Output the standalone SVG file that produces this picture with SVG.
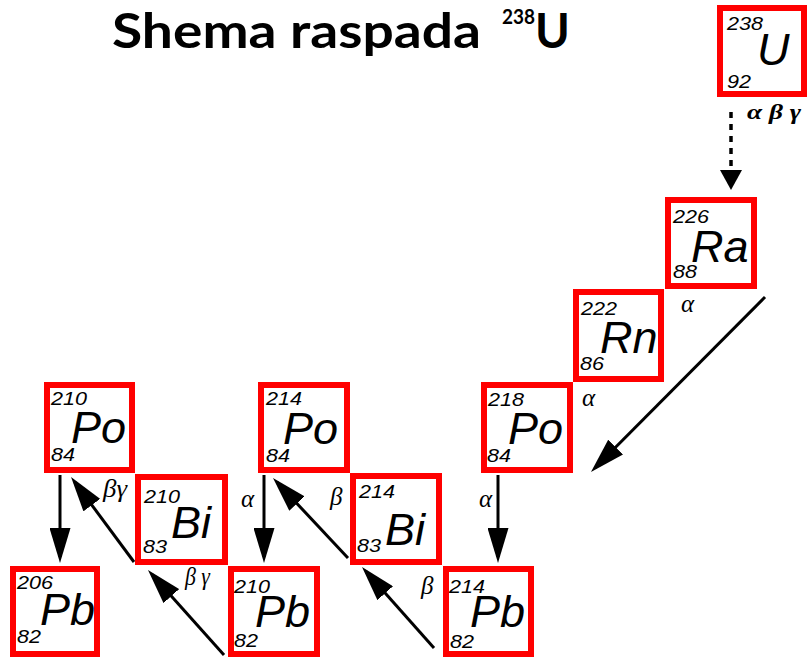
<svg xmlns="http://www.w3.org/2000/svg" width="807" height="660" viewBox="0 0 807 660">
<style>
.frame{fill:#fff;stroke:#ff0000;stroke-width:6}
.num{font-family:"Liberation Sans",Arial,sans-serif;font-style:italic;font-size:18px;fill:#000}
.sym{font-family:"Liberation Sans",Arial,sans-serif;font-style:italic;font-size:45px;fill:#000}
.lbl{font-family:"Liberation Serif","DejaVu Serif",serif;font-style:italic;font-size:25px;fill:#000}
.lblu{font-family:"Liberation Serif","DejaVu Serif",serif;font-style:italic;font-weight:bold;font-size:21px;fill:#000}
.title{font-family:Lato,"Open Sans","Liberation Sans",sans-serif;font-weight:700;fill:#000}
.arr{stroke:#000;stroke-width:3;fill:none;marker-end:url(#head)}
.dash{stroke:#000;stroke-width:3.5;fill:none;stroke-dasharray:6 6;marker-end:url(#headd)}
</style>
<defs>
<marker id="head" markerUnits="userSpaceOnUse" viewBox="0 0 35 21" markerWidth="35" markerHeight="21" refX="29" refY="10.5" orient="auto"><path d="M0,0 L35,10.5 L0,21 Z" fill="#000"/></marker>
<marker id="headd" markerUnits="userSpaceOnUse" viewBox="0 0 20 22" markerWidth="20" markerHeight="22" refX="16" refY="11" orient="auto"><path d="M0,0 L20,11 L0,22 Z" fill="#000"/></marker>
</defs>
<rect width="807" height="660" fill="#fff"/>
<g id="title">
<text class="title" x="112" y="48" font-size="47" textLength="369" lengthAdjust="spacingAndGlyphs">Shema raspada</text>
<text class="title" x="502" y="24" font-size="20" textLength="33" lengthAdjust="spacingAndGlyphs">238</text>
<text class="title" x="535" y="48" font-size="47">U</text>
</g>
<g id="connectors">
<line class="dash" x1="731" y1="112" x2="731" y2="186"/>
<line class="arr" x1="765" y1="297" x2="595.2" y2="467.7"/>
<line class="arr" x1="498" y1="475" x2="498" y2="557"/>
<line class="arr" x1="434" y1="648" x2="366" y2="571.5"/>
<line class="arr" x1="348" y1="558" x2="277.1" y2="482.4"/>
<line class="arr" x1="264" y1="475" x2="264" y2="557"/>
<line class="arr" x1="224" y1="655" x2="152" y2="574.5"/>
<line class="arr" x1="134" y1="562" x2="74.6" y2="481.8"/>
<line class="arr" x1="60" y1="475" x2="60" y2="557"/>
<text class="lblu" x="747" y="119" textLength="54" lengthAdjust="spacingAndGlyphs">α β γ</text>
<text class="lbl" x="681" y="312">α</text>
<text class="lbl" x="582" y="406">α</text>
<text class="lbl" x="479" y="507">α</text>
<text class="lbl" x="421" y="594">β</text>
<text class="lbl" x="330" y="505">β</text>
<text class="lbl" x="241" y="507">α</text>
<text class="lbl" x="103" y="497" textLength="24" lengthAdjust="spacingAndGlyphs">βγ</text>
<text class="lbl" x="185" y="585" textLength="25" lengthAdjust="spacingAndGlyphs">β γ</text>
</g>
<g id="U238">
<rect class="frame" x="720" y="8" width="84" height="86"/>
<text class="num" x="727" y="30" textLength="36" lengthAdjust="spacingAndGlyphs">238</text>
<text class="sym" x="757" y="65" font-size="40">U</text>
<text class="num" x="727" y="88" textLength="24" lengthAdjust="spacingAndGlyphs">92</text>
</g>
<g id="Ra226">
<rect class="frame" x="668" y="200" width="86" height="86"/>
<text class="num" x="673" y="223" textLength="36" lengthAdjust="spacingAndGlyphs">226</text>
<text class="sym" x="691" y="262">Ra</text>
<text class="num" x="673" y="278" textLength="24" lengthAdjust="spacingAndGlyphs">88</text>
</g>
<g id="Rn222">
<rect class="frame" x="576" y="292" width="85" height="87"/>
<text class="num" x="581" y="315" textLength="36" lengthAdjust="spacingAndGlyphs">222</text>
<text class="sym" x="600" y="353">Rn</text>
<text class="num" x="580" y="370" textLength="24" lengthAdjust="spacingAndGlyphs">86</text>
</g>
<g id="Po218">
<rect class="frame" x="484" y="385" width="86" height="85"/>
<text class="num" x="488" y="406" textLength="36" lengthAdjust="spacingAndGlyphs">218</text>
<text class="sym" x="508" y="444">Po</text>
<text class="num" x="487" y="462" textLength="24" lengthAdjust="spacingAndGlyphs">84</text>
</g>
<g id="Pb214">
<rect class="frame" x="446" y="569" width="85" height="85"/>
<text class="num" x="449" y="593" textLength="36" lengthAdjust="spacingAndGlyphs">214</text>
<text class="sym" x="470" y="627">Pb</text>
<text class="num" x="450" y="648" textLength="24" lengthAdjust="spacingAndGlyphs">82</text>
</g>
<g id="Bi214">
<rect class="frame" x="353" y="476" width="86" height="86"/>
<text class="num" x="359" y="498" textLength="36" lengthAdjust="spacingAndGlyphs">214</text>
<text class="sym" x="385" y="545">Bi</text>
<text class="num" x="357" y="552" textLength="24" lengthAdjust="spacingAndGlyphs">83</text>
</g>
<g id="Po214">
<rect class="frame" x="261" y="385" width="86" height="85"/>
<text class="num" x="266" y="405" textLength="36" lengthAdjust="spacingAndGlyphs">214</text>
<text class="sym" x="283" y="444">Po</text>
<text class="num" x="266" y="462" textLength="24" lengthAdjust="spacingAndGlyphs">84</text>
</g>
<g id="Pb210">
<rect class="frame" x="231" y="569" width="86" height="85"/>
<text class="num" x="234" y="593" textLength="36" lengthAdjust="spacingAndGlyphs">210</text>
<text class="sym" x="255" y="627">Pb</text>
<text class="num" x="234" y="647" textLength="24" lengthAdjust="spacingAndGlyphs">82</text>
</g>
<g id="Bi210">
<rect class="frame" x="138" y="477" width="87" height="85"/>
<text class="num" x="144" y="503" textLength="36" lengthAdjust="spacingAndGlyphs">210</text>
<text class="sym" x="171" y="538">Bi</text>
<text class="num" x="143" y="553" textLength="24" lengthAdjust="spacingAndGlyphs">83</text>
</g>
<g id="Po210">
<rect class="frame" x="47" y="385" width="85" height="85"/>
<text class="num" x="51" y="405" textLength="36" lengthAdjust="spacingAndGlyphs">210</text>
<text class="sym" x="71" y="443">Po</text>
<text class="num" x="51" y="461" textLength="24" lengthAdjust="spacingAndGlyphs">84</text>
</g>
<g id="Pb206">
<rect class="frame" x="13" y="569" width="84" height="85"/>
<text class="num" x="17" y="589" textLength="36" lengthAdjust="spacingAndGlyphs">206</text>
<text class="sym" x="40" y="625">Pb</text>
<text class="num" x="17" y="643" textLength="24" lengthAdjust="spacingAndGlyphs">82</text>
</g>
</svg>
